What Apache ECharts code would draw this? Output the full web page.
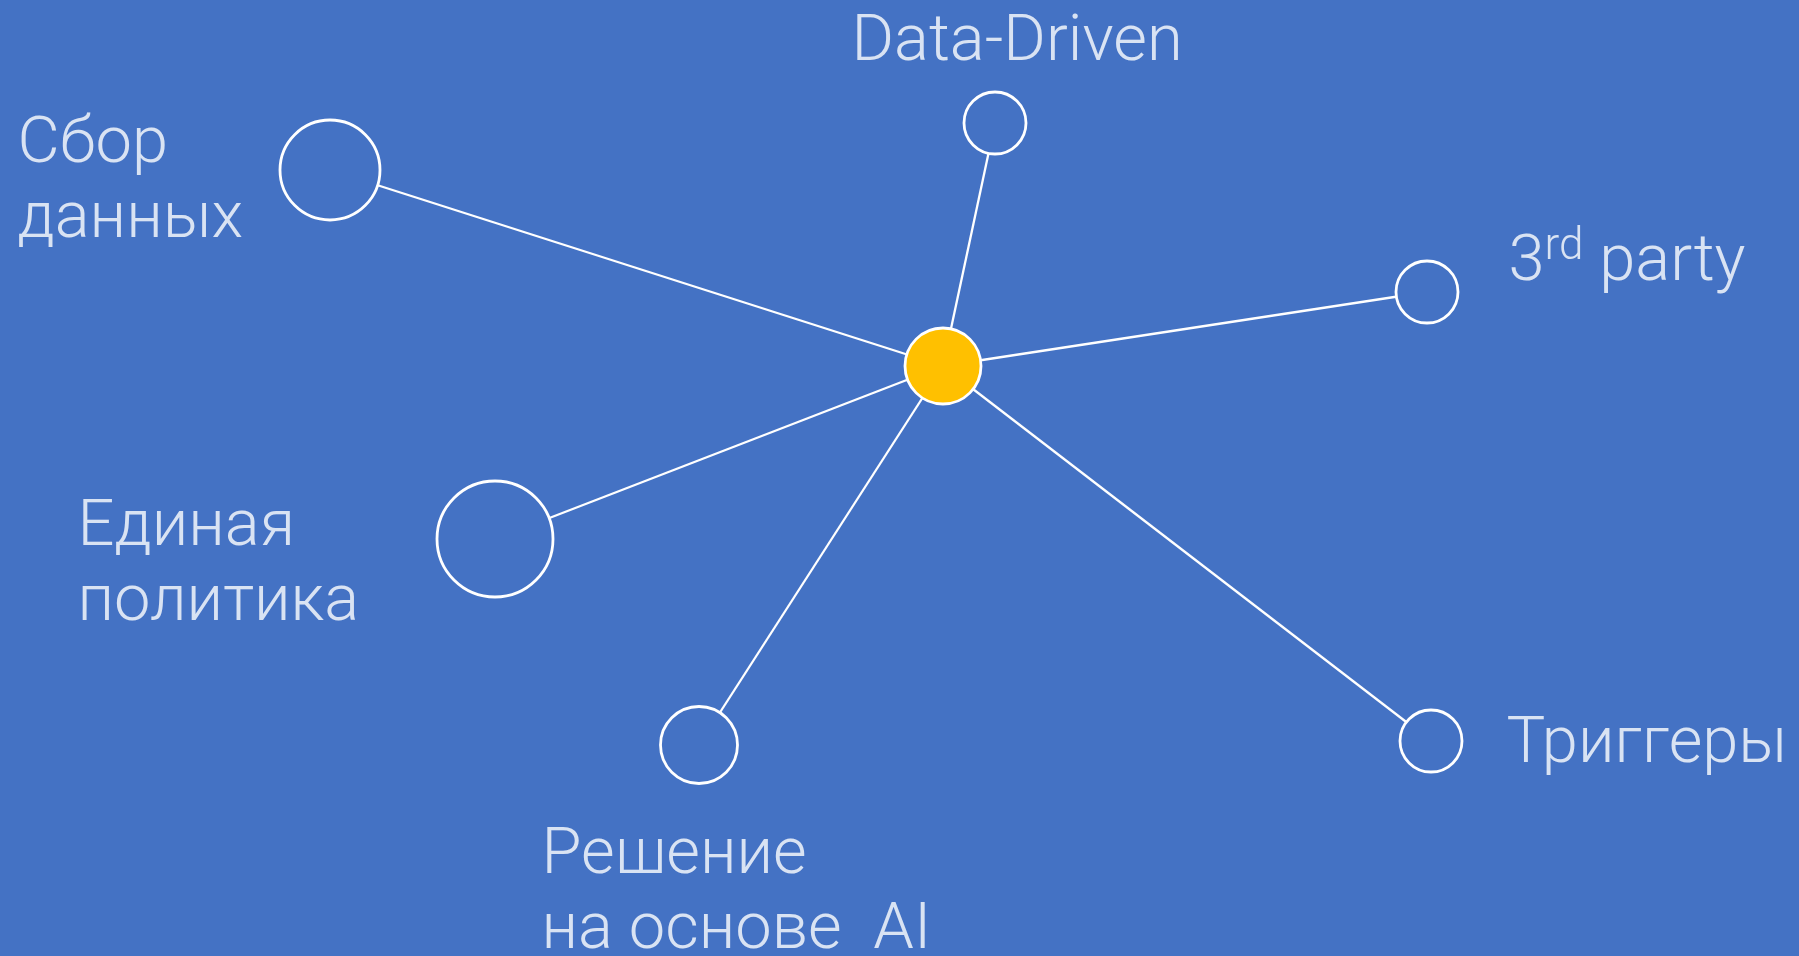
<!DOCTYPE html>
<html>
<head>
<meta charset="utf-8">
<script src="https://cdn.jsdelivr.net/npm/echarts@6/dist/echarts.min.js"></script>
<style>
  html, body { margin: 0; padding: 0; background: #4472C4; }
  #main { width: 1799px; height: 956px; }
</style>
</head>
<body>
<div id="main"></div>
<script>
// nodes of the diagram (first one is the yellow hub)
const nodeNames = ['hub', 'Data-Driven', 'Сбор данных', '3rd party', 'Единая политика', 'Решение на основе AI', 'Триггеры'];
const nodeX = [943, 995, 330, 1427, 495, 699, 1431];
const nodeY = [366, 123, 170, 292, 539, 745, 741];
const nodeDiameter = [76, 62, 100, 62, 116, 77, 62];

// captions, x = left edge, y = baseline of first line
const labelTexts = ['Data-Driven', 'Сбор\nданных', '{n|3}{s|rd}{n| party}', 'Единая\nполитика', 'Решение\nна основе  AI', 'Триггеры'];
const labelX = [852, 18, 1509, 78, 542, 1507];
const labelY = [60, 162, 280, 545, 873, 762];

const BG = '#4472C4';
const FONT = 65;
const LINE_H = 75;

let chart = echarts.init(document.getElementById('main'));

let nodes = nodeNames.map(function (name, i) {
	return {
		name: name,
		value: [nodeX[i], nodeY[i]],
		symbolSize: nodeDiameter[i],
		itemStyle: { color: i === 0 ? '#FFC000' : BG }
	};
});
let links = nodeNames.slice(1).map(function (name) {
	return { source: 'hub', target: name };
});
// baseline -> top of text box
let labelPoints = labelTexts.map(function (t, i) {
	return { value: [labelX[i], labelY[i] - FONT * 0.24 - LINE_H / 2], label: { formatter: t } };
});

chart.setOption({
	backgroundColor: BG,
	animation: false,
	grid: { left: 0, right: 0, top: 0, bottom: 0 },
	xAxis: { type: 'value', min: 0, max: 1799, show: false },
	yAxis: { type: 'value', min: 0, max: 956, inverse: true, show: false },
	series: [
		{
			type: 'graph',
			coordinateSystem: 'cartesian2d',
			silent: true,
			symbol: 'circle',
			data: nodes,
			links: links,
			itemStyle: { borderColor: '#fff', borderWidth: 2.8 },
			lineStyle: { color: '#fff', width: 2.3, opacity: 1 },
			label: { show: false }
		},
		{
			type: 'scatter',
			silent: true,
			symbolSize: 1,
			itemStyle: { color: 'rgba(0,0,0,0)' },
			data: labelPoints,
			label: {
				show: true,
				position: [0, 0],
				align: 'left',
				verticalAlign: 'top',
				color: '#fff',
				fontFamily: 'Roboto',
				fontWeight: 300,
				fontSize: FONT,
				lineHeight: LINE_H,
				rich: {
					n: { color: '#fff', fontFamily: 'Roboto', fontWeight: 300, fontSize: FONT, lineHeight: LINE_H },
					s: { color: '#fff', fontFamily: 'Roboto', fontWeight: 300, fontSize: 44, lineHeight: 40, verticalAlign: 'top' }
				}
			}
		}
	]
});
</script>
</body>
</html>
